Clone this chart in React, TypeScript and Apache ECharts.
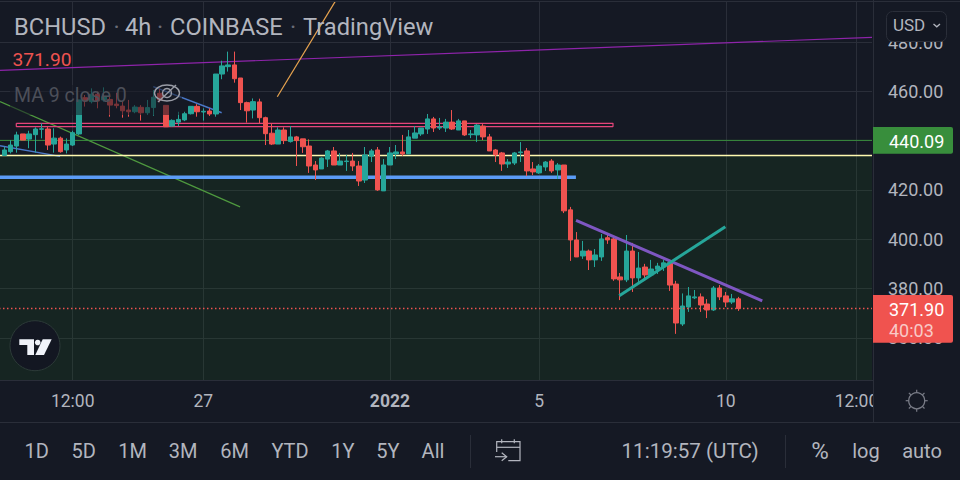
import React, { useEffect, useRef } from "react";
import * as echarts from "echarts";

const opens = [434.0,435.5,437.8,442.7,440.6,442.4,444.6,444.7,438.6,441.0,436.2,438.2,442.7,457.4,455.8,458.8,456.5,456.7,454.8,454.0,452.4,451.7,453.5,451.3,453.4,459.2,454.3,445.9,447.5,448.4,450.9,453.9,451.6,452.0,450.8,467.0,470.0,470.7,465.4,455.4,452.4,455.7,449.3,443.0,438.6,444.3,439.6,441.5,440.7,437.8,430.1,428.5,432.5,435.8,430.1,431.5,431.7,429.7,424.0,433.7,436.2,419.6,430.1,434.6,435.4,434.6,441.0,442.7,444.7,448.8,445.1,445.1,447.5,444.3,448.0,442.4,442.3,445.9,441.5,436.2,435.0,430.5,430.9,435.1,435.8,428.5,426.9,429.3,431.7,428.1,430.1,411.9,399.7,393.2,395.2,391.6,392.8,400.6,400.1,384.7,383.5,395.2,384.3,388.7,385.5,387.8,388.7,390.4,381.8,365.6,372.5,376.2,376.6,373.7,371.3,380.2,377.0,374.5,375.8];
const closes = [436.2,438.2,442.3,440.2,442.7,444.7,444.8,438.2,441.0,435.5,438.6,443.2,456.5,456.1,458.8,456.1,457.8,454.4,454.2,452.1,451.7,453.6,451.3,453.4,457.6,456.5,445.6,448.2,448.6,450.9,453.9,451.7,451.9,450.8,467.0,470.3,470.7,465.1,455.4,452.1,455.8,449.3,442.8,438.6,444.3,440.0,441.5,440.0,437.5,429.7,428.1,432.9,435.8,430.1,431.7,431.7,429.7,423.6,434.2,435.8,420.0,430.1,435.0,435.4,434.6,441.5,443.1,445.1,448.8,445.1,445.5,447.5,444.7,448.0,442.3,442.7,446.3,441.5,435.8,434.2,430.5,431.3,435.0,435.4,427.7,427.3,429.7,431.3,427.7,430.1,411.5,399.7,392.8,395.2,391.6,393.6,400.1,399.7,383.9,383.5,395.2,384.3,388.3,385.5,387.9,389.1,390.4,381.4,366.0,372.9,377.0,376.6,373.3,371.3,380.2,376.6,374.5,375.8,371.9];
const lows = [433.8,434.8,435.1,440.2,436.9,435.1,440.9,436.2,435.1,435.1,434.8,437.8,442.3,453.8,455.1,453.1,455.8,449.7,453.1,449.3,449.7,451.1,448.1,450.4,450.1,455.5,445.6,445.6,445.9,447.9,450.6,449.7,448.1,450.0,449.7,464.9,468.0,463.5,452.4,447.3,449.0,447.0,438.2,438.2,438.6,438.6,439.2,429.7,435.0,426.9,424.0,428.5,429.3,430.1,430.1,427.7,427.7,421.6,422.8,431.3,419.6,419.6,430.1,432.5,433.8,434.6,441.0,441.9,442.7,443.5,444.3,443.5,444.3,444.3,441.9,441.0,439.4,440.2,435.8,431.3,427.7,428.9,430.1,431.3,425.6,426.0,426.5,427.7,426.9,424.4,410.6,391.2,392.8,392.0,387.5,388.7,391.2,398.1,383.1,375.3,382.6,378.6,382.2,383.9,385.5,385.9,387.1,379.0,361.6,364.8,370.5,375.7,370.5,368.0,370.9,375.3,372.5,373.7,370.9];
const highs = [437.5,440.2,443.6,442.7,444.0,445.4,447.0,445.6,445.0,441.6,440.9,444.0,456.5,458.5,461.2,459.9,461.6,457.8,459.4,455.8,456.5,454.4,454.4,456.5,460.5,461.0,454.3,448.6,451.7,451.7,453.9,454.8,453.1,453.1,467.0,472.4,476.1,476.1,465.4,455.8,457.1,457.0,449.7,447.0,445.4,445.4,445.9,441.9,440.7,440.5,431.7,433.2,436.2,437.4,435.0,434.2,435.0,431.7,437.4,436.6,437.4,432.5,437.4,438.2,442.3,444.3,445.9,445.1,450.8,449.6,449.2,448.8,452.4,448.8,448.0,444.3,446.7,446.7,442.7,436.6,435.4,432.5,435.4,439.4,437.0,431.3,430.5,431.7,432.5,430.9,430.1,413.1,402.9,399.3,395.8,396.0,402.1,402.1,400.5,386.3,401.7,398.5,394.8,390.0,391.6,390.4,391.6,391.6,383.1,378.0,380.6,379.4,378.0,375.7,381.0,381.4,378.6,377.8,376.6];

const timeTickIndexes = [12, 33, 63, 87, 117, 138];
const timeTickLabels = ["12:00", "27", "2022", "5", "10", "12:00"];
const rangeButtons = ["1D", "5D", "1M", "3M", "6M", "YTD", "1Y", "5Y", "All"];

const lastPrice = 371.9;
const greenLevel = 440.09;
const whiteLevel = 434.0;
const blueLevel = 425.1;
const pinkTop = 447.0;
const pinkBottom = 445.7;

const purpleTrend = [[-0.5, 468.4], [140.5, 481.9]];
const orangeTrend = [[44.89, 457.8], [54.33, 497.0]];
const greenTrend = [[0.31, 455.8], [38.9, 413.1]];
const blueShortA = [[0.31, 437.9], [9.96, 433.6]];
const blueShortB = [[24.95, 461.9], [35.95, 451.3]];
const violetTrend = [[92.92, 407.67], [122.86, 374.93]];
const tealTrend = [[99.87, 377.08], [116.92, 405.07]];
const pinkBox = [[2.93, pinkTop], [98.86, pinkTop], [98.86, pinkBottom], [2.93, pinkBottom], [2.93, pinkTop]];
const greenLine = [[-0.5, greenLevel], [140.5, greenLevel]];
const whiteLine = [[-0.5, whiteLevel], [140.5, whiteLevel]];
const blueLine = [[-0.5, blueLevel], [92.9, blueLevel]];
const lastLine = [[-0.5, lastPrice], [140.5, lastPrice]];

const BG = "#151924";
const BORDER = "#2a2e39";
const TEXT = "#b2b5be";
const FONT = "Roboto";
const UP = "#26a69a";
const DOWN = "#ef5350";

function seg(data: number[][], color: string, width: number, z: number, type: any = "solid") {
  return {
    type: "line", xAxisIndex: 1, yAxisIndex: 0, data, z, symbol: "none", silent: true,
    lineStyle: { color, width, type }, itemStyle: { color },
  };
}

function txt(text: string, x: number, y: number, fill: string, size: number, align = "left", z = 30, weight = "normal") {
  return {
    type: "text", z, silent: true,
    style: { text, x, y, fill, align, verticalAlign: "middle", font: `${weight} ${size}px ${FONT}` },
  };
}

function rect(x: number, y: number, width: number, height: number, fill: string, z: number, r: any = 0, stroke?: string) {
  return { type: "rect", z, silent: true, shape: { x, y, width, height, r }, style: { fill, stroke } };
}

function ln(x1: number, y1: number, x2: number, y2: number, stroke: string, z: number, lineWidth = 1) {
  return { type: "line", z, silent: true, shape: { x1, y1, x2, y2 }, style: { stroke, lineWidth } };
}

function poly(points: number[][], stroke: string, z: number, lineWidth = 1.2) {
  return { type: "polyline", z, silent: true, shape: { points }, style: { stroke, lineWidth, fill: "none" } };
}

const rangeX = [36.7, 83.7, 132.7, 183, 234.7, 290, 343, 388, 433];
const sunRays = [[0, -1], [0.71, -0.71], [1, 0], [0.71, 0.71], [0, 1], [-0.71, 0.71], [-1, 0], [-0.71, -0.71]];

export default function App() {
  const ref = useRef<HTMLDivElement>(null);
  useEffect(() => {
    document.body.style.margin = "0";
    document.body.style.background = BG;
    const chart = echarts.init(ref.current!, undefined, { renderer: "svg" });
    const categories = Array.from({ length: 141 }, (_, i) => String(i));
    const candleData: any[] = [["-", "-", "-", "-"]].concat(
      opens.map((o, i) => [o, closes[i], lows[i], highs[i]] as any)
    );
    const timeAxisBase = { type: "value", gridIndex: 0, position: "bottom", min: -0.5, max: 140.5, scale: true, axisLine: { show: false } };
    const option: any = {
      animation: false,
      backgroundColor: BG,
      grid: { left: -5.03, right: 88, top: -7.3, height: 394.4, containLabel: false, outerBoundsMode: "none" },
      xAxis: [
        { type: "category", data: categories, boundaryGap: true, axisLine: { show: false }, axisTick: { show: false }, axisLabel: { show: false }, splitLine: { show: false } },
        {
          ...timeAxisBase, z: 0, axisTick: { show: false, customValues: timeTickIndexes },
          axisLabel: { show: false, customValues: timeTickIndexes },
          splitLine: { show: true, lineStyle: { color: BORDER, width: 1 } },
        },
        {
          ...timeAxisBase, z: 10, axisTick: { show: false, customValues: timeTickIndexes },
          splitLine: { show: false },
          axisLabel: {
            show: true, customValues: timeTickIndexes, margin: 5, hideOverlap: false, showMinLabel: true, showMaxLabel: true,
            color: TEXT, fontFamily: FONT, fontSize: 17.5,
            formatter: (v: number) => {
              const s = timeTickLabels[timeTickIndexes.indexOf(Math.round(v))] ?? "";
              return s === "2022" ? `{b|${s}}` : s;
            },
            rich: { b: { fontWeight: "bold", fontSize: 17.5, fontFamily: FONT, color: TEXT } },
          },
        },
      ],
      yAxis: [
        { type: "value", position: "right", min: 340, max: 500, interval: 20, z: 0, axisLine: { show: false }, axisTick: { show: false }, axisLabel: { show: false }, splitLine: { show: true, lineStyle: { color: BORDER, width: 1 } } },
        {
          type: "value", position: "right", min: 340, max: 500, interval: 20, z: 10, axisLine: { show: false }, axisTick: { show: false }, splitLine: { show: false },
          axisLabel: { show: true, margin: 16, color: TEXT, fontFamily: FONT, fontSize: 18, showMinLabel: false, showMaxLabel: false, formatter: (v: number) => v.toFixed(2) },
        },
      ],
      series: [
        {
          type: "line", xAxisIndex: 1, yAxisIndex: 0, data: [], z: 1, symbol: "none", silent: true,
          markArea: { silent: true, itemStyle: { color: "rgba(30,110,30,0.14)" }, data: [[{ yAxis: whiteLevel, xAxis: -0.5 }, { yAxis: 340, xAxis: 140.5 }]] },
        },
        seg(purpleTrend, "#8e24aa", 1.2, 1),
        seg(orangeTrend, "#e8a44f", 1.2, 1),
        seg(greenTrend, "#4f9a3f", 1.2, 1),
        seg(blueShortA, "#4a78c8", 1.5, 1),
        seg(blueShortB, "#4a78c8", 1.5, 1),
        seg(pinkBox, "#e5457a", 1.2, 1),
        seg(greenLine, "#388e3c", 1, 1),
        seg(whiteLine, "#fff9b0", 1.5, 1),
        seg(blueLine, "#5b9cf6", 3.5, 1),
        {
          type: "candlestick", xAxisIndex: 0, yAxisIndex: 0, data: candleData, z: 2, barWidth: 5, silent: true,
          itemStyle: { color: UP, color0: DOWN, borderColor: UP, borderColor0: DOWN, borderWidth: 1 },
        },
        seg(violetTrend, "#7e57c2", 3, 3),
        seg(tealTrend, UP, 3, 3),
        seg(lastLine, DOWN, 1.5, 3, [1.5, 2.5]),
      ],
      graphic: [
        // dimmed legend backdrop
        rect(10, 85, 172, 30, "rgba(21,25,36,0.55)", 5),
        // panels that hide what runs past the plot
        rect(0, 380, 960, 100, BG, 6),
        rect(0, 0, 960, 2, BG, 6),
        ln(0, 1.5, 960, 1.5, BORDER, 7),
        rect(873, 380, 87, 42, BG, 12),
        ln(0, 380.5, 873, 380.5, BORDER, 12),
        ln(0, 422.5, 960, 422.5, BORDER, 12),
        ln(873.5, 0, 873.5, 422, BORDER, 12),
        ln(470.5, 435, 470.5, 468, BORDER, 12),
        ln(785.5, 435, 785.5, 468, BORDER, 12),
        // legend
        txt("BCHUSD", 14, 27, TEXT, 23.7),
        txt("·", 116.7, 27, "#6a6d78", 23.7, "center"),
        txt("4h", 125, 27, TEXT, 23.7),
        txt("·", 160, 27, "#6a6d78", 23.7, "center"),
        txt("COINBASE", 170, 27, TEXT, 23.7),
        txt("·", 293, 27, "#6a6d78", 23.7, "center"),
        txt("TradingView", 303, 27, TEXT, 23.7),
        txt("371.90", 12.5, 59, DOWN, 19.2),
        txt("MA 9 close 0", 14, 95, "#4c4f59", 19.5),
        // eye-off icon
        { type: "ellipse", z: 30, silent: true, shape: { cx: 167, cy: 93, rx: 12.5, ry: 8 }, style: { stroke: "#9a9da7", lineWidth: 1.4, fill: "none" } },
        { type: "circle", z: 30, silent: true, shape: { cx: 167, cy: 93, r: 4.5 }, style: { stroke: "#9a9da7", lineWidth: 1.4, fill: "none" } },
        ln(158, 102, 176, 85, "#9a9da7", 30, 1.4),
        // TradingView badge
        { type: "circle", z: 30, silent: true, shape: { cx: 35, cy: 345.7, r: 25 }, style: { fill: "#131722", stroke: "#2c3a38", lineWidth: 1 } },
        { type: "polygon", z: 31, silent: true, shape: { points: [[19.3, 339.3], [34, 339.3], [34, 355], [27.3, 355], [27.3, 345], [19.3, 345]] }, style: { fill: "#f0f3fa" } },
        { type: "circle", z: 31, silent: true, shape: { cx: 37.7, cy: 342.5, r: 2.8 }, style: { fill: "#f0f3fa" } },
        { type: "polygon", z: 31, silent: true, shape: { points: [[42.7, 339.3], [51.7, 339.3], [44, 355], [35.3, 355]] }, style: { fill: "#f0f3fa" } },
        // price tags
        rect(873, 127, 80, 26.7, "#388e3c", 30, [0, 2, 2, 0]),
        txt("440.09", 889, 141, "#ffffff", 18),
        rect(873, 295, 80, 47.7, "#f0534f", 30, [0, 2, 2, 0]),
        txt("371.90", 889, 309, "#ffffff", 18),
        txt("40:03", 889, 330, "#f9c9c7", 18),
        // currency button
        rect(886.5, 11.5, 60, 30, "#131722", 30, 6, BORDER),
        txt("USD", 893, 25, TEXT, 17),
        poly([[933.5, 24], [936.8, 26.8], [940, 24]], TEXT, 31, 1.3),
        // sun icon
        { type: "circle", z: 30, silent: true, shape: { cx: 916.7, cy: 400.7, r: 8 }, style: { stroke: "#787b86", lineWidth: 1.3, fill: "none" } },
        ...sunRays.map(([a, b]) => ln(916.7 + a * 8, 400.7 + b * 8, 916.7 + a * 11, 400.7 + b * 11, "#787b86", 30, 1.2)),
        // toolbar
        ...rangeButtons.map((b, i) => txt(b, rangeX[i], 451, TEXT, 20, "center")),
        txt("11:19:57 (UTC)", 621.5, 451, TEXT, 20.6),
        txt("%", 820, 451, TEXT, 24, "center"),
        txt("log", 866, 451, TEXT, 20, "center"),
        txt("auto", 922, 451, TEXT, 20, "center"),
        // calendar icon
        poly([[496.7, 452], [496.7, 441.7], [520, 441.7], [520, 460.7], [508.3, 460.7]], TEXT, 30),
        ln(496.7, 447.3, 520, 447.3, TEXT, 30, 1.2),
        ln(501.7, 439.3, 501.7, 443.3, TEXT, 30, 1.2),
        ln(514.3, 439.3, 514.3, 443.3, TEXT, 30, 1.2),
        ln(495, 456.7, 506.7, 456.7, TEXT, 30, 1.2),
        poly([[501.7, 452.7], [506.7, 456.7], [501.7, 460.7]], TEXT, 30),
      ],
    };
    chart.setOption(option);
    return () => chart.dispose();
  }, []);
  return <div ref={ref} style={{ position: "fixed", left: 0, top: 0, width: 960, height: 480 }} />;
}
